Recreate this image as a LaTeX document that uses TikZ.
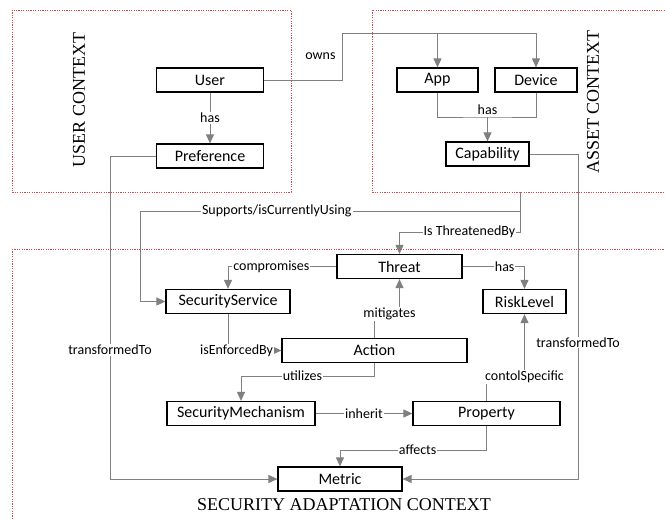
\documentclass[tikz,border=0pt]{standalone}
\usepackage{fontspec}
\setmainfont{Carlito}
\newfontfamily\ctxfont{Liberation Serif}
\usetikzlibrary{arrows.meta, positioning}
\definecolor{ctxred}{RGB}{218,70,70}
\definecolor{linkgray}{RGB}{128,128,128}
\tikzset{
concept/.style={draw, line width=1.2pt, fill=white, minimum height=24pt, inner sep=2pt, font=\fontsize{16}{18}\selectfont}, % one box per class
link/.style={draw=linkgray, line width=1pt, -{Triangle[width=8pt,length=9pt]}}, % directed relation
plain/.style={draw=linkgray, line width=1pt}, % relation part without a head
lbl/.style={fill=white, inner sep=1pt, font=\fontsize{14}{16}\selectfont}, % relation names
ctx/.style={draw=ctxred, line width=1pt, dash pattern=on 1.2pt off 1.2pt}, % context frames
ctxtitle/.style={inner sep=0pt, font=\ctxfont\fontsize{18}{20}\selectfont}, % frame titles
}

\begin{document}
\begin{tikzpicture}[x=1pt, y=-1pt]
      \useasboundingbox (0,0) rectangle (665,520);
      \clip (0,0) rectangle (665,520);

      % the three contexts
      \draw[ctx] (12,10) rectangle (291,192);
      \draw[ctx] (372,10) rectangle (700,192);
      \draw[ctx] (12,249) rectangle (700,560);
      \node[ctxtitle, rotate=90] (usertitle) at (79,100) {USER CONTEXT};
      \node[ctxtitle, rotate=90] (assettitle) at (593,102) {ASSET CONTEXT};
      \node[ctxtitle] (sectitle) at (344,505) {SECURITY ADAPTATION CONTEXT};

      % classes
      \node[concept, minimum width=107pt] (user) at (210,80) {User};
      \node[concept, minimum width=107pt] (pref) at (210,156) {Preference};
      \node[concept, minimum width=81pt] (app) at (437.5,80) {App};
      \node[concept, minimum width=82pt] (dev) at (536,80) {Device};
      \node[concept, minimum width=83pt] (cap) at (487.5,154) {Capability};
      \node[concept, minimum width=125pt] (threat) at (399.5,266.5) {Threat};
      \node[concept, minimum width=83pt] (risk) at (524.5,301.5) {RiskLevel};
      \node[concept, minimum width=124pt] (serv) at (228,301.5) {SecurityService};
      \node[concept, minimum width=185pt] (action) at (374.5,350.5) {Action};
      \node[concept, minimum width=148pt] (mech) at (241,413.5) {SecurityMechanism};
      \node[concept, minimum width=147pt] (prop) at (486.5,413.5) {Property};
      \node[concept, minimum width=124pt] (metric) at (340,479) {Metric};

      % bends
      \coordinate (ownsbend) at (342,33);
      \coordinate (hasjoin) at (487.5,117);
      \coordinate (assetout) at (520,192);
      \coordinate (supbend) at (140,211);
      \coordinate (thrbend) at (520,232);
      \coordinate (ltcol) at (110,479);
      \coordinate (rtcol) at (578,479);
      \coordinate (mitbend) at (374.5,314);

      % relations
      \draw[link] (user) -- node[lbl]{has} (pref);
      \draw[link] (user.east) -| node[lbl, pos=0.75, left=5pt, fill=none]{owns} (ownsbend) -| (app.north);
      \draw[link] (ownsbend) -| (dev.north);
      \draw[plain] (app.south) |- (hasjoin) -| (dev.south);
      \draw[link] (hasjoin) -- (cap.north);
      \node[lbl, above=1pt of hasjoin, fill=none] (haslbl) {has};

      \draw[link] (assetout) |- node[lbl, pos=0.82]{Supports/isCurrentlyUsing} (supbend) |- (serv.west);
      \draw[link] (assetout) -- (thrbend) -| node[lbl, pos=0.21]{Is ThreatenedBy} (threat.north);
      \draw[link] (pref.west) -| node[lbl, pos=0.8]{transformedTo} (ltcol) -- (metric.west);
      \draw[link] (cap.east) -| node[lbl, pos=0.79]{transformedTo} (rtcol) -- (metric.east);

      \draw[link] (threat.west) -| node[lbl, pos=0.3]{compromises} (serv.north);
      \draw[link] (threat.east) -| node[lbl, pos=0.34]{has} (risk.north);
      \draw[link] (action.north) -- (mitbend) -| node[lbl, pos=0.3]{mitigates} (threat.south);
      \draw[link] (serv.south) |- node[lbl, pos=0.58]{isEnforcedBy} (action.west);
      \draw[link] (action.south) -- ++(0,13) -| node[lbl, pos=0.27]{utilizes} (mech.north);
      \draw[link] (mech) -- node[lbl]{inherit} (prop);
      \draw[link] (prop.north) -- ++(0,-24) -| node[lbl, pos=0.5]{contolSpecific} (risk.south);
      \draw[link] (prop.south) -- ++(0,24) -| node[lbl, pos=0.235]{affects} (metric.north);
    \end{tikzpicture}
\end{document}
